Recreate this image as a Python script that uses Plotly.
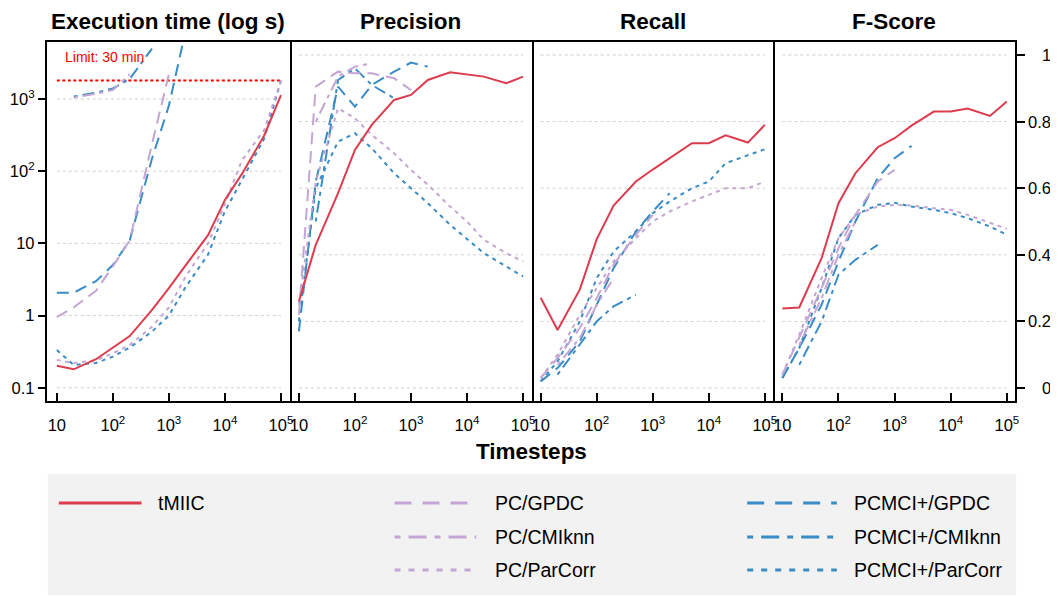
import plotly.graph_objects as go

# ---------------- data ----------------
T_ALL = [10, 20, 50, 100, 200, 500, 1000, 2000, 5000, 10000, 20000, 50000, 100000]
T_PC_GPDC = [10, 20, 50, 100, 200, 500, 1000]
T_PCMCI_GPDC = [10, 20, 50, 100, 200, 500, 1000, 2000]
T_PC_CMIKNN = [20, 50, 100, 200]
T_PCMCI_CMIKNN = [20, 50, 100, 200, 500]

panel_titles = ["Execution time (log s)", "Precision", "Recall", "F-Score"]
x_title = "Timesteps"
x_tickvals = [10, 100, 1000, 10000, 100000]
x_ticktext = ["10", "10<sup>2</sup>", "10<sup>3</sup>", "10<sup>4</sup>", "10<sup>5</sup>"]
time_tickvals = [0.1, 1, 10, 100, 1000]
time_ticktext = ["0.1", "1", "10", "10<sup>2</sup>", "10<sup>3</sup>"]
score_tickvals = [0, 0.2, 0.4, 0.6, 0.8, 1]
score_ticktext = ["0", "0.2", "0.4", "0.6", "0.8", "1"]
time_limit_s = 1800
limit_label = "Limit: 30 min"

# execution time (s)
time_tmiic = [0.202, 0.18, 0.248, 0.36, 0.52, 1.2, 2.4, 5.0, 13, 40, 91, 310, 1130]
time_pc_gpdc = [0.95, 1.3, 2.2, 4.8, 11, 240, 2200]
time_pc_cmiknn = [1050, 1180, 1330, 2200]
time_pc_parcorr = [0.243, 0.22, 0.24, 0.3, 0.39, 0.7, 1.3, 3.5, 10, 35, 140, 370, 1800]
time_pcmci_gpdc = [2.07, 2.07, 3.0, 5.0, 11, 150, 810, 9000]
time_pcmci_cmiknn = [1080, 1220, 1400, 1900, 5000]
time_pcmci_parcorr = [0.333, 0.207, 0.22, 0.27, 0.36, 0.6, 1.0, 2.5, 7, 28, 75, 280, 1800]

# precision
prec_tmiic = [0.26, 0.43, 0.585, 0.715, 0.79, 0.865, 0.88, 0.925, 0.948, 0.942, 0.935, 0.915, 0.935]
prec_pc_gpdc = [0.22, 0.905, 0.95, 0.945, 0.945, 0.93, 0.895]
prec_pc_cmiknn = [0.80, 0.935, 0.965, 0.975]
prec_pc_parcorr = [0.25, 0.62, 0.84, 0.81, 0.76, 0.705, 0.655, 0.61, 0.545, 0.5, 0.445, 0.405, 0.38]
prec_pcmci_gpdc = [0.17, 0.62, 0.905, 0.845, 0.91, 0.95, 0.977, 0.965]
prec_pcmci_cmiknn = [0.50, 0.925, 0.96, 0.91, 0.87]
prec_pcmci_parcorr = [0.2, 0.6, 0.74, 0.765, 0.72, 0.645, 0.6, 0.555, 0.49, 0.447, 0.405, 0.365, 0.335]

# recall
rec_tmiic = [0.271, 0.174, 0.296, 0.447, 0.548, 0.62, 0.656, 0.69, 0.735, 0.735, 0.759, 0.737, 0.79]
rec_pc_gpdc = [0.03, 0.09, 0.18, 0.27, 0.37, 0.46, 0.52]
rec_pc_cmiknn = [0.07, 0.15, 0.25, 0.33]
rec_pc_parcorr = [0.03, 0.1, 0.22, 0.3, 0.38, 0.45, 0.5, 0.53, 0.56, 0.58, 0.6, 0.6, 0.62]
rec_pcmci_gpdc = [0.02, 0.06, 0.14, 0.25, 0.36, 0.47, 0.53, 0.585]
rec_pcmci_cmiknn = [0.04, 0.13, 0.2, 0.245, 0.28]
rec_pcmci_parcorr = [0.02, 0.08, 0.2, 0.33, 0.41, 0.47, 0.525, 0.56, 0.6, 0.62, 0.675, 0.7, 0.717]

# F-score
f_tmiic = [0.239, 0.242, 0.39, 0.555, 0.645, 0.723, 0.75, 0.788, 0.83, 0.83, 0.839, 0.817, 0.86]
f_pc_gpdc = [0.04, 0.15, 0.3, 0.42, 0.52, 0.62, 0.655]
f_pc_cmiknn = [0.13, 0.27, 0.4, 0.5]
f_pc_parcorr = [0.04, 0.16, 0.33, 0.45, 0.52, 0.545, 0.55, 0.548, 0.54, 0.535, 0.52, 0.495, 0.478]
f_pcmci_gpdc = [0.03, 0.12, 0.25, 0.38, 0.5, 0.63, 0.69, 0.727]
f_pcmci_cmiknn = [0.07, 0.2, 0.34, 0.385, 0.43]
f_pcmci_parcorr = [0.03, 0.12, 0.3, 0.45, 0.52, 0.55, 0.556, 0.545, 0.535, 0.525, 0.51, 0.485, 0.46]

method_names = ["tMIIC", "PC/GPDC", "PC/CMIknn", "PC/ParCorr",
                "PCMCI+/GPDC", "PCMCI+/CMIknn", "PCMCI+/ParCorr"]
method_t = [T_ALL, T_PC_GPDC, T_PC_CMIKNN, T_ALL, T_PCMCI_GPDC, T_PCMCI_CMIKNN, T_ALL]
panel_values = [
    [time_tmiic, time_pc_gpdc, time_pc_cmiknn, time_pc_parcorr, time_pcmci_gpdc, time_pcmci_cmiknn, time_pcmci_parcorr],
    [prec_tmiic, prec_pc_gpdc, prec_pc_cmiknn, prec_pc_parcorr, prec_pcmci_gpdc, prec_pcmci_cmiknn, prec_pcmci_parcorr],
    [rec_tmiic, rec_pc_gpdc, rec_pc_cmiknn, rec_pc_parcorr, rec_pcmci_gpdc, rec_pcmci_cmiknn, rec_pcmci_parcorr],
    [f_tmiic, f_pc_gpdc, f_pc_cmiknn, f_pc_parcorr, f_pcmci_gpdc, f_pcmci_cmiknn, f_pcmci_parcorr],
]

# ---------------- styles ----------------
RED = "#DC3C4D"
LAV = "#C3A6D3"
BLUE = "#3A8CC4"
method_colors = [RED, LAV, LAV, LAV, BLUE, BLUE, BLUE]
DASH_PLOT = {"solid": "solid", "dash": "12px,7px", "dashdot": "4px,5px,12px,5px", "dot": "4px,4.5px"}
DASH_LEG = {"solid": "solid", "dash": "17px,11px", "dashdot": "6px,8px,18px,8px", "dot": "6px,8px"}
method_dash = ["solid", "dash", "dashdot", "dot", "dash", "dashdot", "dot"]

W, H = 1058, 597
OFF = 8  # the page body margin shifts the figure by 8px
FONT = "Liberation Sans, Arial, sans-serif"


def fx(p):
    return (p - OFF) / W


def fy(p):
    return 1 - (p - OFF) / H


panel_px = [47, 291, 534, 776, 1019]
top_px, bot_px = 42, 401
x_ranges = [[0.822, 5.16], [0.84, 5.16], [0.845, 5.148], [0.835, 5.148]]
y_range_time = [-1.184, 3.79]
y_range_score = [-0.039, 1.039]

fig = go.Figure()

for i in range(4):
    xa = "x" if i == 0 else f"x{i+1}"
    ya = "y" if i == 0 else f"y{i+1}"
    grid = time_tickvals if i == 0 else score_tickvals
    # grid lines (only from 10 to 1e5 like the reference)
    for g in grid:
        fig.add_trace(go.Scatter(x=[x_tickvals[0], x_tickvals[-1]], y=[g, g], mode="lines",
                                 line=dict(color="#d0d0d0", width=1, dash="3px,3px"),
                                 xaxis=xa, yaxis=ya, hoverinfo="skip", showlegend=False))
    if i == 0:
        fig.add_trace(go.Scatter(x=[x_tickvals[0], x_tickvals[-1]], y=[time_limit_s, time_limit_s],
                                 mode="lines", line=dict(color="#FF0000", width=2, dash="3px,2.5px"),
                                 xaxis=xa, yaxis=ya, hoverinfo="skip", showlegend=False))
    for m in range(len(method_names) - 1, -1, -1):
        fig.add_trace(go.Scatter(x=method_t[m], y=panel_values[i][m], mode="lines",
                                 name=method_names[m],
                                 line=dict(color=method_colors[m], width=2,
                                           dash=DASH_PLOT[method_dash[m]]),
                                 xaxis=xa, yaxis=ya, showlegend=False))

layout = dict(
    width=W, height=H, margin=dict(l=0, r=0, t=0, b=0),
    paper_bgcolor="white", plot_bgcolor="white",
    font=dict(family=FONT, color="black", size=16),
    showlegend=False,
)
for i in range(4):
    xk = "xaxis" if i == 0 else f"xaxis{i+1}"
    yk = "yaxis" if i == 0 else f"yaxis{i+1}"
    layout[xk] = dict(
        type="log", range=x_ranges[i], domain=[fx(panel_px[i]), fx(panel_px[i + 1])],
        anchor="y" if i == 0 else f"y{i+1}",
        showline=True, linecolor="black", linewidth=2, mirror=True,
        ticks="inside", ticklen=8, tickwidth=1.5, tickcolor="black",
        tickvals=x_tickvals, ticktext=x_ticktext, tickfont=dict(size=16.5, color="black"),
        ticklabelstandoff=8,
        showgrid=False, zeroline=False,
    )
    ydict = dict(
        domain=[fy(bot_px), fy(top_px)], anchor="x" if i == 0 else f"x{i+1}",
        showline=True, linecolor="black", linewidth=2,
        showgrid=False, zeroline=False,
    )
    if i == 0:
        ydict.update(type="log", range=y_range_time, mirror=True, ticks="outside", ticklen=7,
                     tickwidth=1.5, tickcolor="black", tickvals=time_tickvals,
                     ticktext=time_ticktext, tickfont=dict(size=16.5, color="black"))
    else:
        # only the right-hand border: the left one is the previous panel's right border
        ydict.update(range=y_range_score, side="right", mirror=False,
                     showticklabels=False, ticks="")
        if i == 3:
            ydict.update(ticks="outside", ticklen=8, tickwidth=1.5,
                         tickcolor="black", tickvals=score_tickvals)
    layout[yk] = ydict

annotations = []
panel_centers = [169, 412, 655, 897]
for i, t in enumerate(panel_titles):
    annotations.append(dict(text=f"<b>{t}</b>", x=fx(panel_centers[i]), y=fy(22), xref="paper", yref="paper",
                            xanchor="center", yanchor="middle", showarrow=False,
                            font=dict(size=22.5, color="black", family=FONT)))
annotations.append(dict(text=f"<b>{x_title}</b>", x=fx(533), y=fy(451), xref="paper", yref="paper",
                        xanchor="center", yanchor="middle", showarrow=False,
                        font=dict(size=22.5, color="black", family=FONT)))
annotations.append(dict(text=limit_label, x=fx(63), y=fy(57), xref="paper", yref="paper",
                        xanchor="left", yanchor="middle", showarrow=False,
                        font=dict(size=14, color="#FF0000", family=FONT)))
# right-hand tick labels (right aligned like the reference)
for v, s in zip(score_tickvals, score_ticktext):
    annotations.append(dict(text=s, x=fx(1057), y=v, xref="paper", yref="y4",
                            xanchor="right", yanchor="middle", showarrow=False,
                            font=dict(size=16.5, color="black", family=FONT)))

# legend drawn manually
shapes = [dict(type="rect", xref="paper", yref="paper", x0=fx(48), x1=fx(1020), y0=fy(595), y1=fy(474),
               fillcolor="#F2F2F2", line=dict(width=0), layer="below")]
leg_col = [0, 1, 1, 1, 2, 2, 2]
leg_row = [0, 0, 1, 2, 0, 1, 2]
col_x0 = [59, 396, 750]
col_x1 = [142, 478, 840]
col_tx = [157, 495, 855]
row_y = [503, 537, 570]
for m, name in enumerate(method_names):
    c, r = leg_col[m], leg_row[m]
    shapes.append(dict(type="line", xref="paper", yref="paper",
                       x0=fx(col_x0[c]), x1=fx(col_x1[c]), y0=fy(row_y[r]), y1=fy(row_y[r]),
                       line=dict(color=method_colors[m], width=3, dash=DASH_LEG[method_dash[m]])))
    annotations.append(dict(text=name, x=fx(col_tx[c]), y=fy(row_y[r]), xref="paper", yref="paper",
                            xanchor="left", yanchor="middle", showarrow=False,
                            font=dict(size=19.5, color="black", family=FONT)))

layout["annotations"] = annotations
layout["shapes"] = shapes
fig.update_layout(**layout)
fig.write_html("out.html")
